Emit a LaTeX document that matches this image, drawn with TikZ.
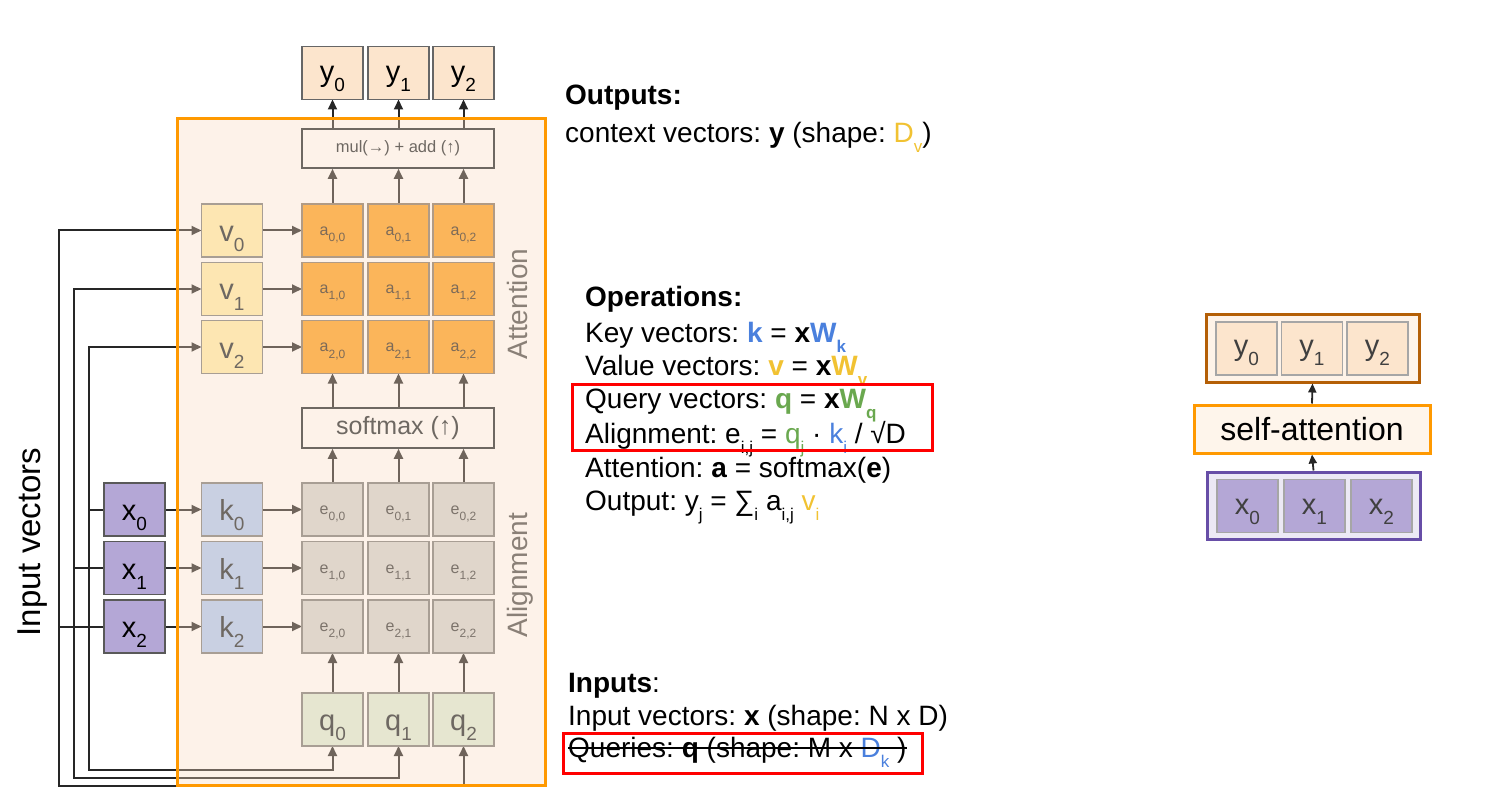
\documentclass[tikz,border=0pt]{standalone}
\usepackage{fontspec}
\setmainfont{Liberation Sans}
\usetikzlibrary{arrows.meta}
\pgfdeclarelayer{lines}
\pgfdeclarelayer{veil}
\pgfsetlayers{lines,veil,main}
\frenchspacing
\definecolor{xfill}{HTML}{B4A7D6}
\definecolor{kfill}{HTML}{C9D0E2}
\definecolor{vfill}{HTML}{FDE6B2}
\definecolor{afill}{HTML}{FBB55A}
\definecolor{efill}{HTML}{E0D6CB}
\definecolor{qfill}{HTML}{E6E6D0}
\definecolor{yfill}{HTML}{FCE5CD}
\definecolor{inborder}{HTML}{A89E94}
\definecolor{ingrey}{HTML}{6E6862}
\definecolor{lbgrey}{HTML}{8A8077}
\definecolor{veilc}{HTML}{F9DAC0}
\definecolor{boxorange}{HTML}{FF9900}
\definecolor{kblue}{HTML}{4A80DD}
\definecolor{vyellow}{HTML}{F1C232}
\definecolor{qgreen}{HTML}{6AA84F}
\definecolor{ybrown}{HTML}{B45F06}
\definecolor{xpurple}{HTML}{674EA7}
\definecolor{linec}{HTML}{262626}
% cell labels: zero-size box, glyphs lowered so that the baseline sits below the centre
\newcommand{\cellsub}[3][11pt]{\raisebox{-#1}[0pt][0pt]{\fontsize{29}{29}\selectfont #2\raisebox{-10pt}{\fontsize{19}{19}\selectfont #3}}}
\newcommand{\smallsub}[2]{\raisebox{-5pt}[0pt][0pt]{\fontsize{16}{16}\selectfont #1\raisebox{-6pt}{\fontsize{12}{12}\selectfont #2}}}
\newcommand{\tsub}[1]{\raisebox{-10pt}{\fontsize{17}{17}\selectfont #1}}
\begin{document}
\frenchspacing
\begin{tikzpicture}[x=1pt,y=-1pt,
  cell/.style={draw, line width=1.6pt, minimum width=61pt, minimum height=53pt, inner sep=0pt, outer sep=0pt},
  xcell/.style={cell, fill=xfill, draw=black!65, text=black},
  kcell/.style={cell, fill=kfill, draw=inborder, text=ingrey},
  vcell/.style={cell, fill=vfill, draw=inborder, text=ingrey},
  acell/.style={cell, fill=afill, draw=inborder!90!orange, text=ingrey!90!orange},
  ecell/.style={cell, fill=efill, draw=inborder, text=lbgrey!90!black},
  qcell/.style={cell, fill=qfill, draw=inborder, text=ingrey},
  ycell/.style={cell, fill=yfill, draw=black!60, text=black},
  opbox/.style={draw=ingrey, line width=1.6pt, minimum width=192pt, inner sep=0pt, text=ingrey},
  conn/.style={line width=2pt, draw=linec},
  arr/.style={conn, -{Triangle[length=10pt,width=9pt]}},
  rarr/.style={line width=1.8pt, draw=linec, -{Triangle[length=9pt,width=8pt]}},
  txt/.style={anchor=base west, inner sep=0pt, font=\fontsize{28}{32}\selectfont},
  rcell/.style={draw=black!35, line width=1.4pt, minimum width=61pt, minimum height=53pt, inner sep=0pt, text=black!75},
]
\useasboundingbox (0,0) rectangle (1491,810);

% ---------- left diagram: nodes ----------
\node[draw=boxorange, line width=3pt, minimum width=368pt, minimum height=666pt, inner sep=0pt] (frame) at (361,452) {};

\foreach \r/\yy in {0/230.5,1/289,2/347} {
  \node[vcell] (v\r) at (232,\yy) {\cellsub{v}{\r}};
  \foreach \c/\xx in {0/332.5,1/398.5,2/463.5}
    \node[acell] (a\r\c) at (\xx,\yy) {\smallsub{a}{\r,\c}};
}
\foreach \r/\yy in {0/509.5,1/568,2/626.5} {
  \node[xcell] (x\r) at (134.5,\yy) {\cellsub{x}{\r}};
  \node[kcell] (k\r) at (232,\yy) {\cellsub{k}{\r}};
  \foreach \c/\xx in {0/332.5,1/398.5,2/463.5}
    \node[ecell] (e\r\c) at (\xx,\yy) {\smallsub{e}{\r,\c}};
}
\foreach \c/\xx in {0/332.5,1/398.5,2/463.5} {
  \node[qcell] (q\c) at (\xx,719.5) {\cellsub{q}{\c}};
  \node[ycell] (y\c) at (\xx,73) {\cellsub[9pt]{y}{\c}};
}
\node[opbox, minimum height=40pt, font=\fontsize{25}{25}\selectfont] (soft) at (398,428) {softmax (↑)};
\node[opbox, minimum height=39pt, font=\fontsize{16.5}{16.5}\selectfont] (mul) at (398,148.5) {mul(→) + add (↑)};

\node[rotate=90, anchor=base, inner sep=0pt, text=lbgrey, font=\fontsize{28}{28}\selectfont] (attn) at (527,304) {Attention};
\node[rotate=90, anchor=base, inner sep=0pt, text=lbgrey, font=\fontsize{28}{28}\selectfont] (align) at (527,575) {Alignment};
\node[rotate=90, anchor=base, inner sep=0pt, font=\fontsize{33}{33}\selectfont] (inlab) at (40,542) {Input vectors};

% junction coordinates
\coordinate (j0) at (89,509.5);
\coordinate (j1) at (74,568);
\coordinate (j2) at (59,626.5);
\coordinate (b0) at (89,770);
\coordinate (b1) at (74,778);
\coordinate (b2) at (59,786);

% ---------- connectors (under the veil) ----------
\begin{pgfonlayer}{lines}
  \foreach \r in {0,1,2} {
    \draw[arr] (x\r.east) -- (k\r.west);
    \draw[arr] (k\r.east) -- (e\r0.west);
    \draw[arr] (v\r.east) -- (a\r0.west);
    \draw[conn] (x\r.west) -- (j\r);
  }
  \draw[arr] (j0) |- (v2.west);
  \draw[arr] (j1) |- (v1.west);
  \draw[arr] (j2) |- (v0.west);
  \draw[arr] (j0) -- (b0) -| (q0.south);
  \draw[arr] (j1) -- (b1) -| (q1.south);
  \draw[arr] (j2) -- (b2) -| (q2.south);
  \foreach \c in {0,1,2} {
    \draw[arr] (q\c.north) -- (e2\c.south);
    \draw[arr] (e0\c.north) -- (e0\c.north |- soft.south);
    \draw[arr] (a2\c.south |- soft.north) -- (a2\c.south);
    \draw[arr] (a0\c.north) -- (a0\c.north |- mul.south);
    \draw[arr] (y\c.south |- mul.north) -- (y\c.south);
  }
\end{pgfonlayer}
\begin{pgfonlayer}{veil}
  \fill[veilc, fill opacity=0.35] (frame.south west) rectangle (frame.north east);
\end{pgfonlayer}

% ---------- text ----------
\node[txt] (out1) at (565,105) {\textbf{Outputs:}};
\node[txt] (out2) at (565,143) {context vectors: \textbf{y} (shape: {\color{vyellow}D\tsub{v}})};

\node[txt] (op0) at (585,307) {\textbf{Operations:}};
\node[txt] (op1) at (585,342) {Key vectors: {\color{kblue}\textbf{k}} = \textbf{x}{\color{kblue}\textbf{W}\tsub{\textbf{k}}}};
\node[txt] (op2) at (585,375) {Value vectors: {\color{vyellow}\textbf{v}} = \textbf{x}{\color{vyellow}\textbf{W}\tsub{\textbf{v}}}};
\node[txt] (op3) at (585,408) {Query vectors: {\color{qgreen}\textbf{q}} = \textbf{x}{\color{qgreen}\textbf{W}\tsub{\textbf{q}}}};
\node[txt] (op4) at (585,443) {Alignment: e\tsub{i,j} = {\color{qgreen}q\tsub{j}} · {\color{kblue}k\tsub{i}} / √D};
\node[txt] (op5) at (585,477) {Attention: \textbf{a} = softmax(\textbf{e})};
\node[txt] (op6) at (585,510) {Output: y\tsub{j} = ∑\tsub{i} a\tsub{i,j} {\color{vyellow}v\tsub{i}}};
\draw[red, line width=3pt] (572,384) rectangle (932,450);

\node[txt] (in0) at (568,692) {\textbf{Inputs}:};
\node[txt] (in1) at (568,725) {Input vectors: \textbf{x} (shape: N x D)};
\node[txt] (in2) at (568,757) {Queries: \textbf{q} (shape: M x {\color{kblue}D\tsub{k}} )};
\draw[line width=1.8pt] ([yshift=9pt]in2.base west) -- ([yshift=9pt]in2.base east);
\draw[red, line width=3pt] (563,733) rectangle (922,773);

% ---------- right diagram ----------
\node[draw=ybrown, fill=yfill!45, line width=3pt, minimum width=213pt, minimum height=67pt, inner sep=0pt] (ry) at (1312.5,348.5) {};
\node[rcell, fill=yfill] (ry0) at (1246.5,348.5) {\cellsub[7pt]{y}{0}};
\node[rcell, fill=yfill] (ry1) at (1312,348.5) {\cellsub[7pt]{y}{1}};
\node[rcell, fill=yfill] (ry2) at (1377.5,348.5) {\cellsub[7pt]{y}{2}};
\node[draw=boxorange, fill=yfill!40, line width=3pt, minimum width=236pt, minimum height=48pt, inner sep=0pt, font=\fontsize{32}{32}\selectfont] (sa) at (1312,429) {self-attention};
\node[draw=xpurple, fill=xfill!25, line width=3pt, minimum width=213pt, minimum height=67pt, inner sep=0pt] (rx) at (1313.5,505.5) {};
\node[rcell, fill=xfill] (rx0) at (1247.5,506) {\cellsub[8pt]{x}{0}};
\node[rcell, fill=xfill] (rx1) at (1314.5,506) {\cellsub[8pt]{x}{1}};
\node[rcell, fill=xfill] (rx2) at (1381.5,506) {\cellsub[8pt]{x}{2}};
\draw[rarr] (rx.north) -- (sa.south);
\draw[rarr] (sa.north) -- (ry.south);
\end{tikzpicture}
\end{document}
